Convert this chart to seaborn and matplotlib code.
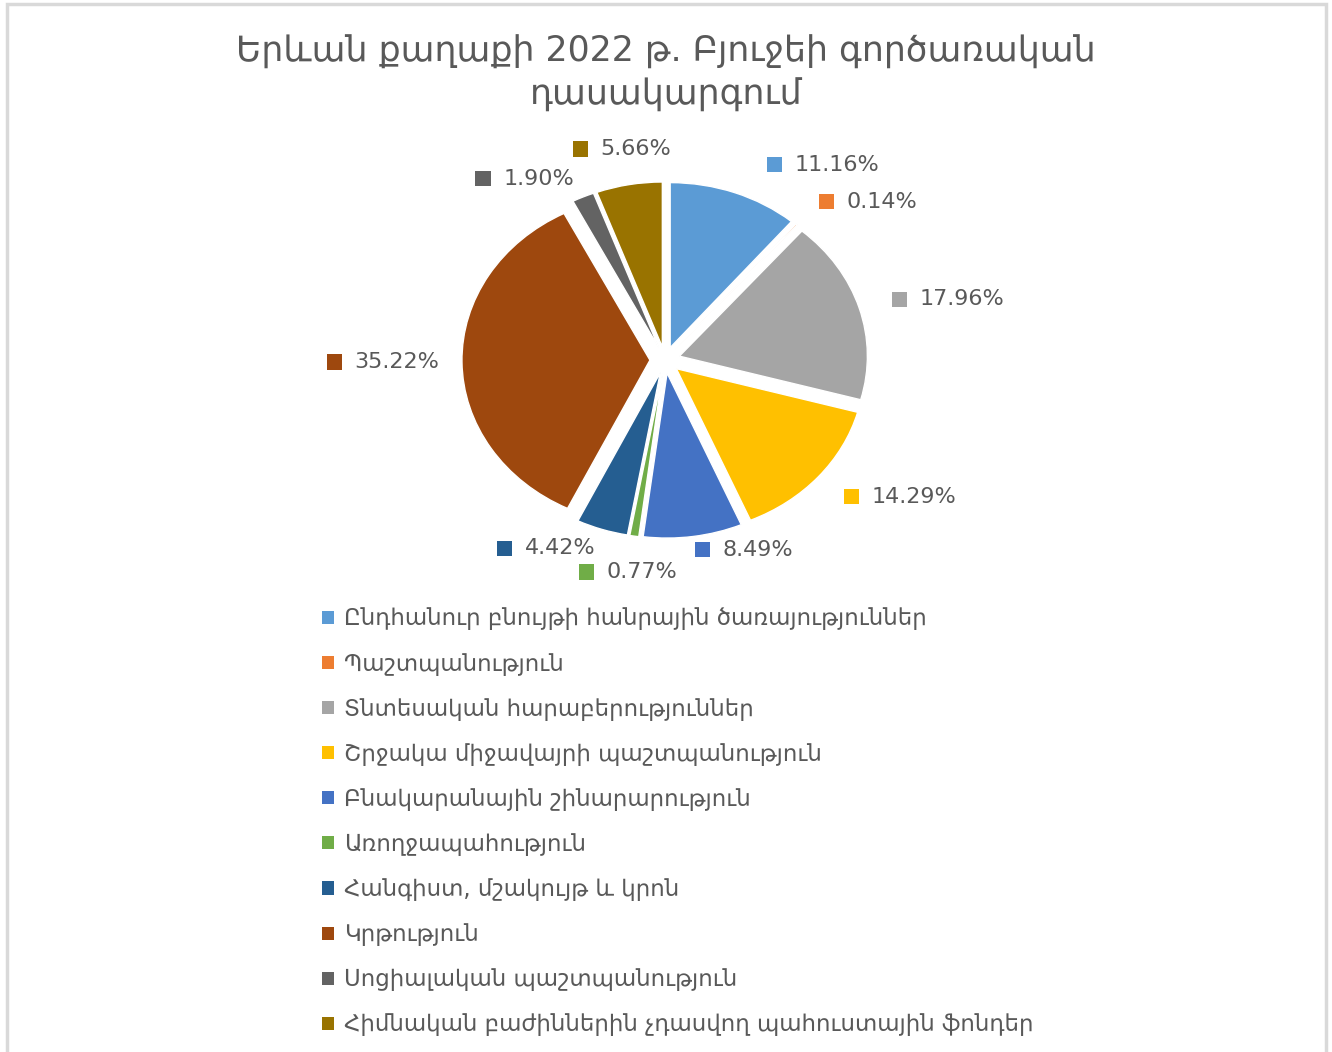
import numpy as np
import matplotlib
matplotlib.use("Agg")
import matplotlib.pyplot as plt
import seaborn as sns
from matplotlib.patches import Rectangle
from matplotlib.offsetbox import AnnotationBbox, HPacker, TextArea, DrawingArea

# Data
categories = [
    "Ընդհանուր բնույթի հանրային ծառայություններ",
    "Պաշտպանություն",
    "Տնտեսական հարաբերություններ",
    "Շրջակա միջավայրի պաշտպանություն",
    "Բնակարանային շինարարություն",
    "Առողջապահություն",
    "Հանգիստ, մշակույթ և կրոն",
    "Կրթություն",
    "Սոցիալական պաշտպանություն",
    "Հիմնական բաժիններին չդասվող պահուստային ֆոնդեր",
]
shares = [11.16, 0.14, 17.96, 14.29, 8.49, 0.77, 4.42, 35.22, 1.90, 5.66]
colors = ["#5B9BD5", "#ED7D31", "#A5A5A5", "#FFC000", "#4472C4",
          "#70AD47", "#255E91", "#9E480E", "#636363", "#997300"]
title = "Երևան քաղաքի 2022 թ. Բյուջեի գործառական\nդասակարգում"

sns.set_theme(style="white")
plt.rcParams['font.family'] = ['DejaVu Sans']
text_color = "#595959"

W, H = 1332, 1052
fig = plt.figure(figsize=(W / 100, H / 100), dpi=100)

# Chart area border (open at the bottom)
fig.patches.append(Rectangle((7 / W, -0.05), (1326 - 7) / W, 1.05 - 4 / H,
                             transform=fig.transFigure, fill=False,
                             edgecolor="#d9d9d9", linewidth=2.5))

# Axes sized so the pie is slightly wider than tall, as in the reference
rx, ry = 188, 165  # pixels per data unit
cx, cy = 665, 360
xl, yl = 2.0, 1.45
ax = fig.add_axes([(cx - xl * rx) / W, 1 - (cy + yl * ry) / H,
                   2 * xl * rx / W, 2 * yl * ry / H])

explode = [0.08] * len(shares)
wedges, _ = ax.pie(shares, colors=colors, startangle=90, counterclock=False,
                   explode=explode, radius=1.0,
                   wedgeprops=dict(edgecolor="white", linewidth=1))
ax.set_aspect("auto")
ax.set_xlim(-xl, xl)
ax.set_ylim(-yl, yl)
ax.axis("off")

# Data labels with legend keys
for w, val, col in zip(wedges, shares, colors):
    ang = np.deg2rad((w.theta1 + w.theta2) / 2)
    c, s = np.cos(ang), np.sin(ang)
    if c > 0.1:
        r, align = 1.26, (0.0, 0.5)
        if s < -0.9:
            r = 1.16
    elif c < -0.2:
        r, align = 1.2, (1.0, 0.5)
    else:
        r, align = 1.3, (0.5, 0.5)
    px, py = r * c, r * s
    if c > 0.1 and s > 0.9:
        px += 0.11
    key = DrawingArea(11, 11, 0, 0)
    key.add_artist(Rectangle((0, 0), 11, 11, facecolor=col, edgecolor="none"))
    txt = TextArea(f"{val:.2f}%", textprops=dict(color=text_color, fontsize=16))
    box = HPacker(children=[key, txt], align="center", pad=0, sep=9)
    ab = AnnotationBbox(box, (px, py), xycoords="data", frameon=False,
                        box_alignment=align, annotation_clip=False, pad=0)
    ax.add_artist(ab)

fig.text(0.5, 1 - 73 / H, title, ha="center", va="center", fontsize=25,
         color=text_color, linespacing=1.32)

handles = [Rectangle((0, 0), 1, 1, facecolor=col, edgecolor="none") for col in colors]
leg = fig.legend(handles, categories, loc="upper left",
                 bbox_to_anchor=(311 / W, 1 - 596 / H), frameon=False,
                 fontsize=16.5, handlelength=0.5, handleheight=0.5,
                 handletextpad=0.45, labelspacing=0.965, borderpad=0)
for t in leg.get_texts():
    t.set_color(text_color)

fig.savefig("out.png", dpi=100, facecolor="white")
